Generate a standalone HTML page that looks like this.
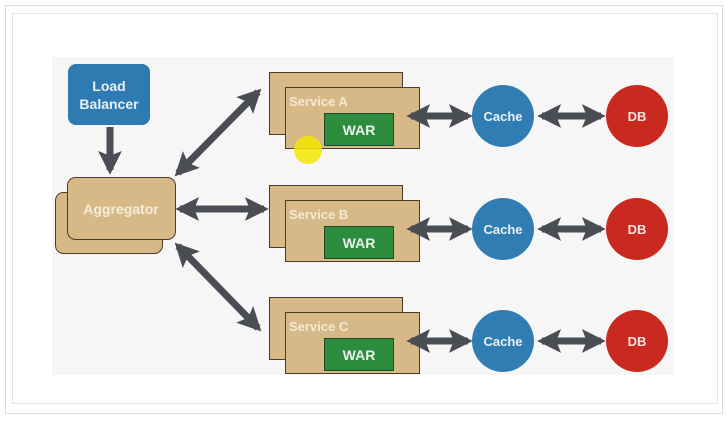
<!DOCTYPE html>
<html><head><style>
html,body{margin:0;padding:0;background:#fff;}
svg{display:block;font-family:"Liberation Sans",sans-serif;font-weight:bold;}
</style></head><body>
<svg width="727" height="421" viewBox="0 0 727 421">
<defs>
<marker id="h" viewBox="0 0 10 10" refX="8" refY="5" markerWidth="3.4" markerHeight="3.4" orient="auto-start-reverse" markerUnits="strokeWidth">
<path d="M0,0 L10,5 L0,10 L2,5 z" fill="#4b4d55"/></marker>
</defs>
<rect x="5.5" y="5.5" width="717" height="408" fill="#fff" stroke="#dcdcdc"/>
<rect x="12.5" y="13.5" width="705" height="390" fill="#fff" stroke="#e3e3e3"/>
<rect x="52" y="57" width="622" height="318" fill="#f6f6f6"/>
<rect x="68" y="64" width="82" height="61" rx="8" fill="#2d7bb1"/>
<text x="109" y="91" fill="#e8eef4" font-size="14" text-anchor="middle">Load</text>
<text x="109" y="109" fill="#e8eef4" font-size="14" text-anchor="middle">Balancer</text>
<rect x="55.5" y="192.5" width="107" height="61" rx="8" fill="#d6b987" stroke="#4a3e2a"/>
<rect x="67.5" y="177.5" width="108" height="62" rx="8" fill="#d6b987" stroke="#4a3e2a"/>
<text x="121" y="214" fill="#f6ecd8" font-size="14" text-anchor="middle">Aggregator</text>
<g id="s">
<rect x="269.5" y="72.5" width="133" height="62" fill="#d6b987" stroke="#4a3e2a"/>
<rect x="285.5" y="87.5" width="134" height="61" fill="#d6b987" stroke="#4a3e2a"/>
<rect x="324.5" y="113.5" width="69" height="32" fill="#2e8c3f" stroke="#224a2a"/>
<text x="359" y="135" fill="#eaf3ea" font-size="14" text-anchor="middle">WAR</text>
<circle cx="503" cy="116" r="31" fill="#2f7db3"/>
<text x="503" y="121" fill="#e8f0f7" font-size="13" text-anchor="middle">Cache</text>
<circle cx="637" cy="116" r="31" fill="#c9291f"/>
<text x="637" y="121" fill="#f7e4e2" font-size="13" text-anchor="middle">DB</text>
</g>
<use href="#s" y="113"/>
<use href="#s" y="225"/>
<text x="289" y="106" fill="#f3e9d4" font-size="13">Service A</text>
<text x="289" y="219" fill="#f3e9d4" font-size="13">Service B</text>
<text x="289" y="331" fill="#f3e9d4" font-size="13">Service C</text>
<g stroke="#4b4d55" stroke-width="7" fill="none">
<line x1="110" y1="127" x2="110" y2="170" marker-end="url(#h)"/>
<line x1="178" y1="173" x2="258" y2="92" marker-start="url(#h)" marker-end="url(#h)"/>
<line x1="180" y1="209" x2="264" y2="209" marker-start="url(#h)" marker-end="url(#h)"/>
<line x1="178" y1="246" x2="258" y2="328" marker-start="url(#h)" marker-end="url(#h)"/>
<line x1="411" y1="116" x2="468" y2="116" marker-start="url(#h)" marker-end="url(#h)"/>
<line x1="411" y1="229" x2="468" y2="229" marker-start="url(#h)" marker-end="url(#h)"/>
<line x1="411" y1="341" x2="468" y2="341" marker-start="url(#h)" marker-end="url(#h)"/>
<line x1="542" y1="116" x2="601" y2="116" marker-start="url(#h)" marker-end="url(#h)"/>
<line x1="542" y1="229" x2="601" y2="229" marker-start="url(#h)" marker-end="url(#h)"/>
<line x1="542" y1="341" x2="601" y2="341" marker-start="url(#h)" marker-end="url(#h)"/>
</g>
<circle cx="308" cy="150" r="14" fill="#f2e600" opacity="0.85"/>
</svg>
</body></html>
